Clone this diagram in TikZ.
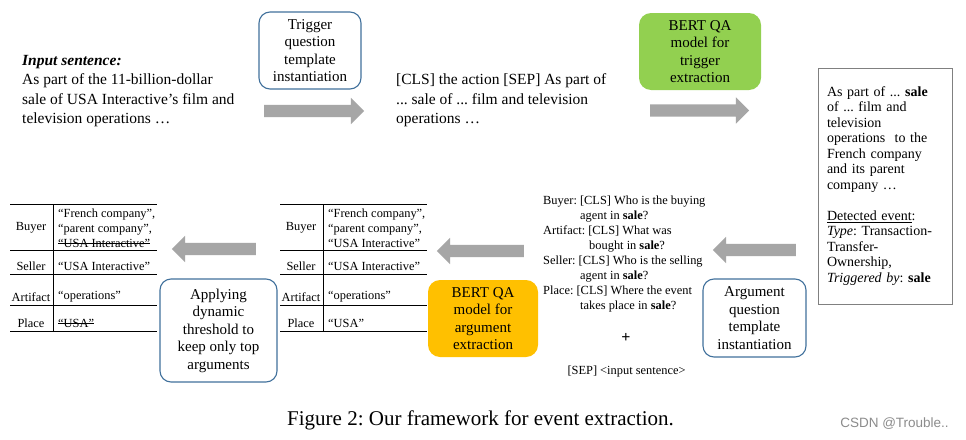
\documentclass[tikz,border=0pt]{standalone}
\usepackage{fontspec}
\setmainfont{Liberation Serif}
\newfontfamily\markfont{Liberation Sans}
\usetikzlibrary{shapes.arrows}
\frenchspacing

\definecolor{stepblue}{HTML}{41719C}
\definecolor{bertgreen}{HTML}{92D050}
\definecolor{bertorange}{HTML}{FFC000}
\definecolor{flowgray}{HTML}{A6A6A6}

% struck-out text
\newcommand{\strikeout}[1]{\setbox0\hbox{#1}\rlap{\rule[0.3em]{\wd0}{0.7pt}}\box0}

\tikzset{
  stepbox/.style={draw=stepblue, line width=1.1pt, rounded corners=11pt, align=center,
    font=\fontsize{15}{17.5}\selectfont, inner sep=2pt},
  bertbox/.style={rounded corners=12pt, align=center, font=\fontsize{15}{17.5}\selectfont, inner sep=2pt},
  flow/.style={single arrow, fill=flowgray, inner xsep=0pt, inner ysep=6pt,
    single arrow head extend=7pt, single arrow tip angle=90, minimum width=26pt},
  plain/.style={align=left, inner sep=0pt, anchor=west},
  small/.style={font=\fontsize{12.4}{15}\selectfont, inner sep=0pt}
}

% one argument table: prefix, shift, third buyer value, place value
\newcommand{\argtable}[4]{%
  \begin{scope}[xshift=#2]
    \draw[line width=0.8pt] (10,204) -- (157,204) (10,250) -- (157,250) (10,274) -- (157,274)
      (10,305) -- (157,305) (10,331) -- (157,331);
    \draw[line width=0.8pt] (53,204) -- (53,331);
    \node[small] (#1buyer) at (31,228) {Buyer};
    \node[small] (#1seller) at (31,266) {Seller};
    \node[small] (#1artifact) at (31,297) {Artifact};
    \node[small] (#1place) at (31,323) {Place};
    \node[small, plain] (#1buyerv) at (58,228) {“French company”,\\“parent company”,\\#3};
    \node[small, plain] (#1sellerv) at (58,266) {“USA Interactive”};
    \node[small, plain] (#1artifactv) at (58,297) {“operations”};
    \node[small, plain] (#1placev) at (58,323) {#4};
  \end{scope}}

\begin{document}
\begin{tikzpicture}[x=1pt, y=-1pt]
\path[fill=white, use as bounding box] (0,0) rectangle (966,439);

% top row
\node[plain, font=\fontsize{15.5}{19.5}\selectfont] (input) at (22,91)
  {\textbf{\textit{Input sentence:}}\\As part of the 11-billion-dollar\\sale of USA Interactive's film and\\television operations …};
\node[stepbox, minimum width=102pt, minimum height=77pt] (trigq) at (310,50.5)
  {Trigger\\question\\template\\instantiation};
\node[flow, minimum height=100pt] (arrA) at (311,111) {};
\node[plain, font=\fontsize{15.5}{19.5}\selectfont] (clsin) at (396,100.5)
  {[CLS] the action [SEP] As part of\\... sale of ... film and television\\operations …};
\node[bertbox, fill=bertgreen, minimum width=122pt, minimum height=77pt] (bertT) at (700,51.5)
  {BERT QA\\model for\\trigger\\extraction};
\node[flow, minimum height=99pt] (arrB) at (696.5,110.5) {};

% detected trigger
\node[draw=black!50, line width=0.9pt, minimum width=134pt, minimum height=236pt, text width=116pt,
  inner xsep=9pt, align=left, font=\fontsize{14}{15.5}\selectfont] (detect) at (885,186)
  {As part of ... \textbf{sale}\\of ... film and\\television\\operations\ \ to the\\French company\\and its parent\\company …\\[15.5pt]
   \underline{Detected event}:\\\textit{Type}: Transaction-\\Transfer-\\Ownership,\\\textit{Triggered by}: \textbf{sale}};

% bottom row
\node[flow, shape border rotate=180, minimum height=83pt] (arrC) at (757.5,250) {};
\node[stepbox, minimum width=103pt, minimum height=78pt] (argq) at (754.5,318)
  {Argument\\question\\template\\instantiation};
\node[small, plain] (questions) at (543,254)
  {Buyer: [CLS] Who is the buying\\\hspace*{37pt}agent in \textbf{sale}?\\
   Artifact: [CLS] What was\\\hspace*{46pt}bought in \textbf{sale}?\\
   Seller: [CLS] Who is the selling\\\hspace*{37pt}agent in \textbf{sale}?\\
   Place: [CLS] Where the event\\\hspace*{37pt}takes place in \textbf{sale}?};
\node[font=\fontsize{16}{18}\selectfont\bfseries, inner sep=0pt] (plus) at (626,338) {+};
\node[small] (sep) at (626.5,372) {[SEP] \textless input sentence\textgreater};

\node[flow, shape border rotate=180, minimum height=87pt] (arrD) at (483.5,251) {};
\node[bertbox, fill=bertorange, minimum width=110pt, minimum height=77pt] (bertA) at (483,318.5)
  {BERT QA\\model for\\argument\\extraction};
\argtable{mid}{270pt}{“USA Interactive”}{“USA”}

\node[flow, shape border rotate=180, minimum height=84pt] (arrE) at (217,249) {};
\node[stepbox, minimum width=117pt, minimum height=103pt] (thresh) at (218.5,330.5)
  {Applying\\dynamic\\threshold to\\keep only top\\arguments};
\argtable{fin}{0pt}{\strikeout{“USA Interactive”}}{\strikeout{“USA”}}

% caption
\node[font=\fontsize{21}{24}\selectfont, inner sep=0pt] (caption) at (480.5,420)
  {Figure 2: Our framework for event extraction.};
\node[font=\markfont\fontsize{13.5}{15}\selectfont, text=black!45, inner sep=0pt] (mark) at (894.5,424)
  {CSDN @Trouble..};
\end{tikzpicture}
\end{document}
